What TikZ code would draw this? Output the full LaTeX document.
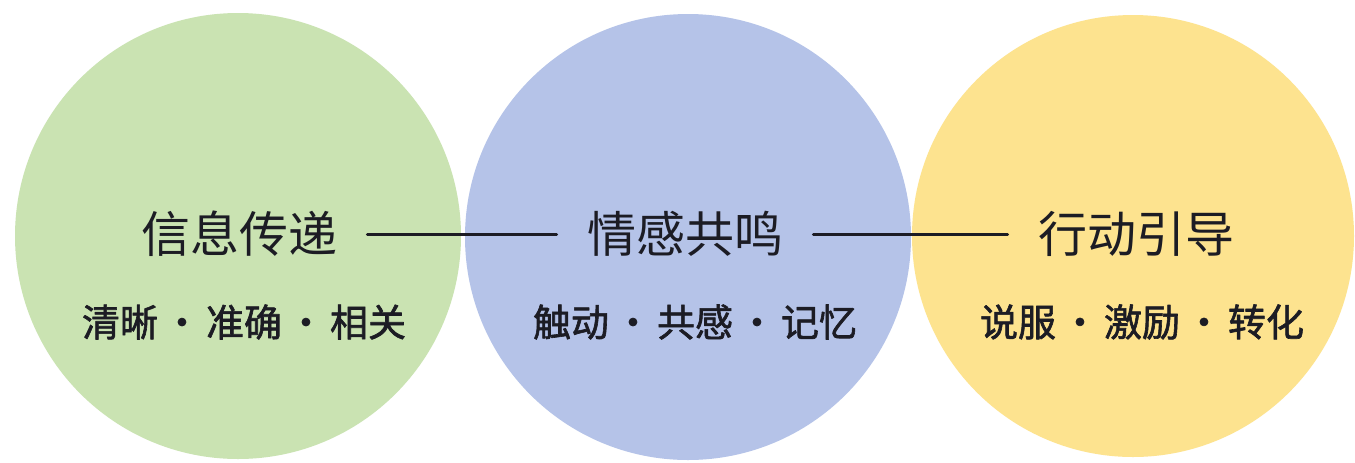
\documentclass[tikz,border=0pt]{standalone}
\usepackage{fontspec}
\setmainfont{Noto Sans CJK SC}
\newfontfamily\subfont{Noto Sans CJK SC}[FakeBold=1.6]
\definecolor{ccebb3}{rgb}{0.792,0.890,0.698}
\definecolor{b4c4e8}{rgb}{0.710,0.765,0.910}
\definecolor{fde38f}{rgb}{0.992,0.890,0.561}
\definecolor{qqqqtt}{rgb}{0.11,0.11,0.14}
\newcommand{\sepdot}{\hspace{2.5pt}·\hspace{2.5pt}}
\begin{document}
\begin{tikzpicture}[line cap=round,line join=round,x=0.5pt,y=-0.5pt,
  title/.style={font=\fontsize{24.5}{28}\selectfont,text=qqqqtt,inner xsep=15pt,inner ysep=2pt},
  sub/.style={font=\subfont\fontsize{19}{22}\selectfont,text=qqqqtt,inner sep=0pt}]
\useasboundingbox[fill=white] (0,0) rectangle (1355,462);
\fill [color=ccebb3] (238,236) circle (111.5pt);
\fill [color=b4c4e8] (688,237) circle (111.5pt);
\fill [color=fde38f] (1133,236) circle (110.5pt);
\node [title] (info) at (239,234) {信息传递};
\node [title] (emo) at (685,234) {情感共鸣};
\node [title] (act) at (1136,234) {行动引导};
\node [sub] (infosub) at (244,322) {清晰\sepdot{}准确\sepdot{}相关};
\node [sub] (emosub) at (695,322) {触动\sepdot{}共感\sepdot{}记忆};
\node [sub] (actsub) at (1142,322) {说服\sepdot{}激励\sepdot{}转化};
\draw [line width=1.5pt,color=qqqqtt] (info) -- (emo);
\draw [line width=1.5pt,color=qqqqtt] (emo) -- (act);
\end{tikzpicture}
\end{document}
